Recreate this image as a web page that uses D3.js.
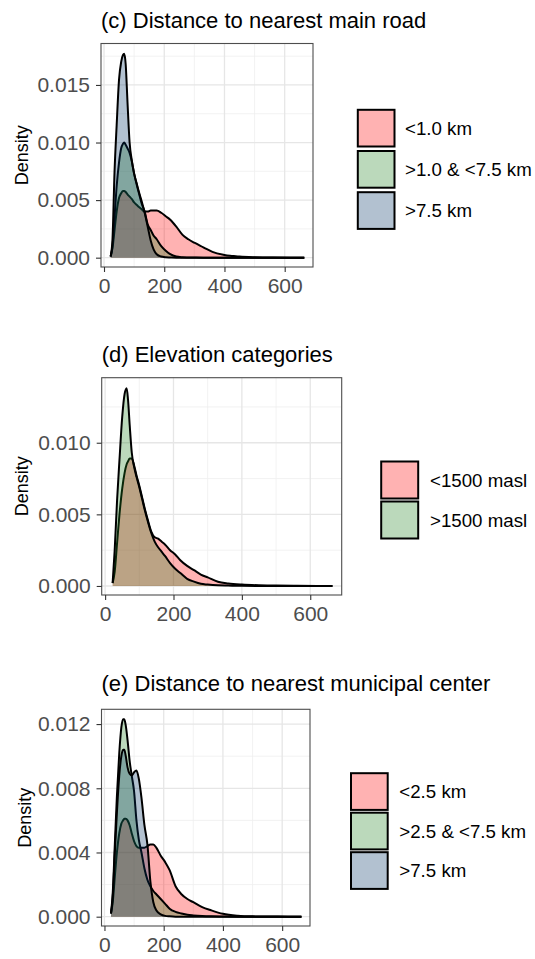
<!DOCTYPE html>
<html>
<head>
<meta charset="utf-8">
<script src="https://cdn.jsdelivr.net/npm/d3@7"></script>
<style>
  body { margin: 0; background: #fff; }
  text { font-family: "Liberation Sans", Arial, sans-serif; }
</style>
</head>
<body>
<div id="chart"></div>
<script>
// x positions (same grid for every density curve)
const xGrid = [22, 28, 35, 42, 50, 57, 63, 67, 72, 78, 85, 92, 100, 108, 116, 125, 135, 145, 155, 165,
               175, 190, 205, 220, 240, 260, 280, 300, 330, 360, 400, 450, 500, 560, 620, 665];

// (c) distance to nearest main road
const roadLabels = ["<1.0 km", ">1.0 & <7.5 km", ">7.5 km"];
const roadNear = [0.0001, 0.0008, 0.0024, 0.0040, 0.0052, 0.0056, 0.0058, 0.0058, 0.0057, 0.0055, 0.0053, 0.0051,
                  0.0048, 0.0046, 0.0044, 0.0042, 0.0040, 0.0040, 0.0041, 0.0041, 0.0041, 0.0039, 0.0036, 0.0033,
                  0.0027, 0.0020, 0.0016, 0.0013, 0.0009, 0.0005, 0.00024, 0.0001, 0.00004, 0.00001, 0.000003, 0];
const roadMid = [0.0001, 0.0010, 0.0035, 0.0062, 0.0083, 0.0095, 0.0099, 0.0100, 0.0098, 0.0095, 0.0091, 0.0084,
                 0.0073, 0.0064, 0.0056, 0.0047, 0.0040, 0.0029, 0.0024, 0.0019, 0.0016, 0.0010, 0.0006, 0.0003,
                 0.0001, 0.00004, 0.00002, 0.00001, 0, 0, 0, 0, 0, 0, 0, 0];
const roadFar = [0.0001, 0.0015, 0.0075, 0.0115, 0.0155, 0.0170, 0.0176, 0.0177, 0.0168, 0.0135, 0.0100, 0.0085,
                 0.0073, 0.0065, 0.0057, 0.0049, 0.0039, 0.0027, 0.0015, 0.0007, 0.0003, 0.0001, 0.00004, 0.00002,
                 0, 0, 0, 0, 0, 0, 0, 0, 0, 0, 0, 0];
const roadTicks = [0, 0.005, 0.010, 0.015];

// (d) elevation categories
const elevLabels = ["<1500 masl", ">1500 masl"];
const elevLow = [0.0002, 0.0010, 0.0030, 0.0050, 0.0068, 0.0079, 0.0085, 0.0087, 0.0089, 0.0089, 0.0084, 0.0077,
                 0.0070, 0.0062, 0.0054, 0.0046, 0.0038, 0.0034, 0.0033, 0.0031, 0.0029, 0.0025, 0.0022, 0.0018,
                 0.0014, 0.0011, 0.0008, 0.0006, 0.0003, 0.00018, 0.0001, 0.00005, 0.00003, 0.00001, 0.000005, 0];
const elevHigh = [0.0002, 0.0025, 0.0060, 0.0088, 0.0118, 0.0134, 0.0138, 0.0130, 0.0112, 0.0093, 0.0083, 0.0076,
                  0.0069, 0.0061, 0.0053, 0.0045, 0.0037, 0.0031, 0.0027, 0.0024, 0.0021, 0.0016, 0.0012, 0.0009,
                  0.0005, 0.0003, 0.00015, 0.0001, 0.00005, 0.00003, 0.00001, 0, 0, 0, 0, 0];
const elevTicks = [0, 0.005, 0.010];

// (e) distance to nearest municipal center
const muniLabels = ["<2.5 km", ">2.5 & <7.5 km", ">7.5 km"];
const muniNear = [0.0002, 0.0009, 0.0025, 0.0040, 0.0052, 0.0058, 0.0060, 0.0061, 0.0061, 0.0060, 0.0057, 0.0052,
                  0.0047, 0.0044, 0.0043, 0.0043, 0.0043, 0.0044, 0.0045, 0.0045, 0.0043, 0.0038, 0.0034, 0.0029,
                  0.0019, 0.0014, 0.0011, 0.0009, 0.0006, 0.0004, 0.00018, 0.00006, 0.00002, 0.00001, 0, 0];
const muniMid = [0.0002, 0.0015, 0.0045, 0.0075, 0.0102, 0.0118, 0.0123, 0.0123, 0.0119, 0.0110, 0.0097, 0.0088,
                 0.0078, 0.0060, 0.0048, 0.0040, 0.0030, 0.0023, 0.0019, 0.0016, 0.0014, 0.0011, 0.0008, 0.0005,
                 0.0003, 0.0002, 0.00012, 0.00008, 0.00004, 0.00002, 0.00001, 0, 0, 0, 0, 0];
const muniFar = [0.0002, 0.0012, 0.0040, 0.0065, 0.0088, 0.0100, 0.0104, 0.0104, 0.0100, 0.0093, 0.0089, 0.0088,
                 0.0090, 0.0091, 0.0086, 0.0074, 0.0057, 0.0045, 0.0022, 0.0009, 0.0004, 0.00015, 0.00005, 0.00002,
                 0, 0, 0, 0, 0, 0, 0, 0, 0, 0, 0, 0];
const muniTicks = [0, 0.004, 0.008, 0.012];

const xTicks = [0, 200, 400, 600];
const xMinor = [100, 300, 500];

const fills = ["#FF0000", "#1E821E", "#003264"];
const fillAlpha = 0.3;

const width = 535, height = 959;

const svg = d3.select("#chart").append("svg")
    .attr("width", width)
    .attr("height", height)
    .style("background", "#fff");

const panels = [
    {
        title: "(c) Distance to nearest main road",
        series: [roadNear, roadMid, roadFar],
        labels: roadLabels,
        yTicks: roadTicks,
        box: { left: 101, right: 313, top: 43.5, bottom: 267 },
        xDom: [-10, 694],
        yDom: [-0.00081, 0.0186],
        titleY: 28,
        densX: 22,
        legend: { x: 357.3, y: 109.3, step: 41.2, size: 37.7, textX: 405 }
    },
    {
        title: "(d) Elevation categories",
        series: [elevLow, elevHigh],
        labels: elevLabels,
        yTicks: elevTicks,
        box: { left: 101.7, right: 341.7, top: 377.7, bottom: 595 },
        xDom: [-10, 692],
        yDom: [-0.00063, 0.01454],
        titleY: 361.7,
        densX: 22,
        legend: { x: 380.7, y: 461, step: 40, size: 38, textX: 430 }
    },
    {
        title: "(e) Distance to nearest municipal center",
        series: [muniNear, muniMid, muniFar],
        labels: muniLabels,
        yTicks: muniTicks,
        box: { left: 101.5, right: 310, top: 709.3, bottom: 926 },
        xDom: [-10, 694],
        yDom: [-0.00058, 0.01292],
        titleY: 691,
        densX: 25,
        legend: { x: 350.5, y: 772.7, step: 39.5, size: 37.7, textX: 399.3 }
    }
];

function drawPanel(p)
{
    const b = p.box;
    const g = svg.append("g");

    const x = d3.scaleLinear().domain(p.xDom).range([b.left, b.right]);
    const y = d3.scaleLinear().domain(p.yDom).range([b.bottom, b.top]);

    // minor + major grid
    const step = p.yTicks[1] - p.yTicks[0];
    const yMinor = p.yTicks.map(t => t + step / 2).filter(m => m < p.yDom[1]);

    g.selectAll(".vminor").data(xMinor).join("line")
        .attr("x1", d => x(d)).attr("x2", d => x(d))
        .attr("y1", b.top).attr("y2", b.bottom)
        .attr("stroke", "#EFEFEF").attr("stroke-width", 0.8);
    g.selectAll(".hminor").data(yMinor).join("line")
        .attr("x1", b.left).attr("x2", b.right)
        .attr("y1", d => y(d)).attr("y2", d => y(d))
        .attr("stroke", "#EFEFEF").attr("stroke-width", 0.8);
    g.selectAll(".vmajor").data(xTicks).join("line")
        .attr("x1", d => x(d)).attr("x2", d => x(d))
        .attr("y1", b.top).attr("y2", b.bottom)
        .attr("stroke", "#E6E6E6").attr("stroke-width", 1.3);
    g.selectAll(".hmajor").data(p.yTicks).join("line")
        .attr("x1", b.left).attr("x2", b.right)
        .attr("y1", d => y(d)).attr("y2", d => y(d))
        .attr("stroke", "#E6E6E6").attr("stroke-width", 1.3);

    // densities, drawn in factor order
    const area = d3.area()
        .curve(d3.curveMonotoneX)
        .x((d, i) => x(xGrid[i]))
        .y0(y(0))
        .y1(d => y(d));
    const line = d3.line()
        .curve(d3.curveMonotoneX)
        .x((d, i) => x(xGrid[i]))
        .y(d => y(d));

    p.series.forEach((s, i) => {
        g.append("path")
            .datum(s)
            .attr("d", area)
            .attr("fill", fills[i])
            .attr("fill-opacity", fillAlpha);
        g.append("path")
            .datum(s)
            .attr("d", line)
            .attr("fill", "none")
            .attr("stroke", "#000")
            .attr("stroke-width", 2)
            .attr("stroke-linejoin", "round");
    });

    // panel border
    g.append("rect")
        .attr("x", b.left).attr("y", b.top)
        .attr("width", b.right - b.left).attr("height", b.bottom - b.top)
        .attr("fill", "none")
        .attr("stroke", "#4D4D4D")
        .attr("stroke-width", 1.1);

    // axes
    const yAxis = d3.axisLeft(y).tickValues(p.yTicks).tickFormat(d3.format(".3f")).tickSize(5).tickPadding(6);
    const xAxis = d3.axisBottom(x).tickValues(xTicks).tickFormat(d3.format("d")).tickSize(5).tickPadding(6);

    const ya = g.append("g").attr("transform", `translate(${b.left},0)`).call(yAxis);
    const xa = g.append("g").attr("transform", `translate(0,${b.bottom})`).call(xAxis);
    for(const a of [ya, xa])
    {
        a.select(".domain").remove();
        a.selectAll(".tick line").attr("stroke", "#333").attr("stroke-width", 1.1);
        a.selectAll(".tick text")
            .attr("fill", "#4D4D4D")
            .style("font-size", "21px")
            .style("font-family", "'Liberation Sans', Arial, sans-serif");
    }

    // titles
    g.append("text")
        .attr("x", b.left)
        .attr("y", p.titleY)
        .style("font-size", "22px")
        .attr("fill", "#000")
        .text(p.title);

    g.append("text")
        .attr("transform", `translate(${p.densX + 6},${(b.top + b.bottom) / 2}) rotate(-90)`)
        .attr("text-anchor", "middle")
        .style("font-size", "18px")
        .attr("fill", "#000")
        .text("Density");

    // legend
    const L = p.legend;
    p.labels.forEach((lab, i) => {
        const ky = L.y + i * L.step;
        g.append("rect")
            .attr("x", L.x + 0.5).attr("y", ky + 0.5)
            .attr("width", L.size - 1).attr("height", L.size - 1)
            .attr("fill", "#fff");
        g.append("rect")
            .attr("x", L.x + 0.5).attr("y", ky + 0.5)
            .attr("width", L.size - 1).attr("height", L.size - 1)
            .attr("fill", fills[i])
            .attr("fill-opacity", fillAlpha)
            .attr("stroke", "#000")
            .attr("stroke-width", 2);
        g.append("text")
            .attr("x", L.textX)
            .attr("y", ky + L.size / 2)
            .attr("dy", "0.35em")
            .style("font-size", "18.7px")
            .attr("fill", "#000")
            .text(lab);
    });
}

panels.forEach(drawPanel);
</script>
</body>
</html>
